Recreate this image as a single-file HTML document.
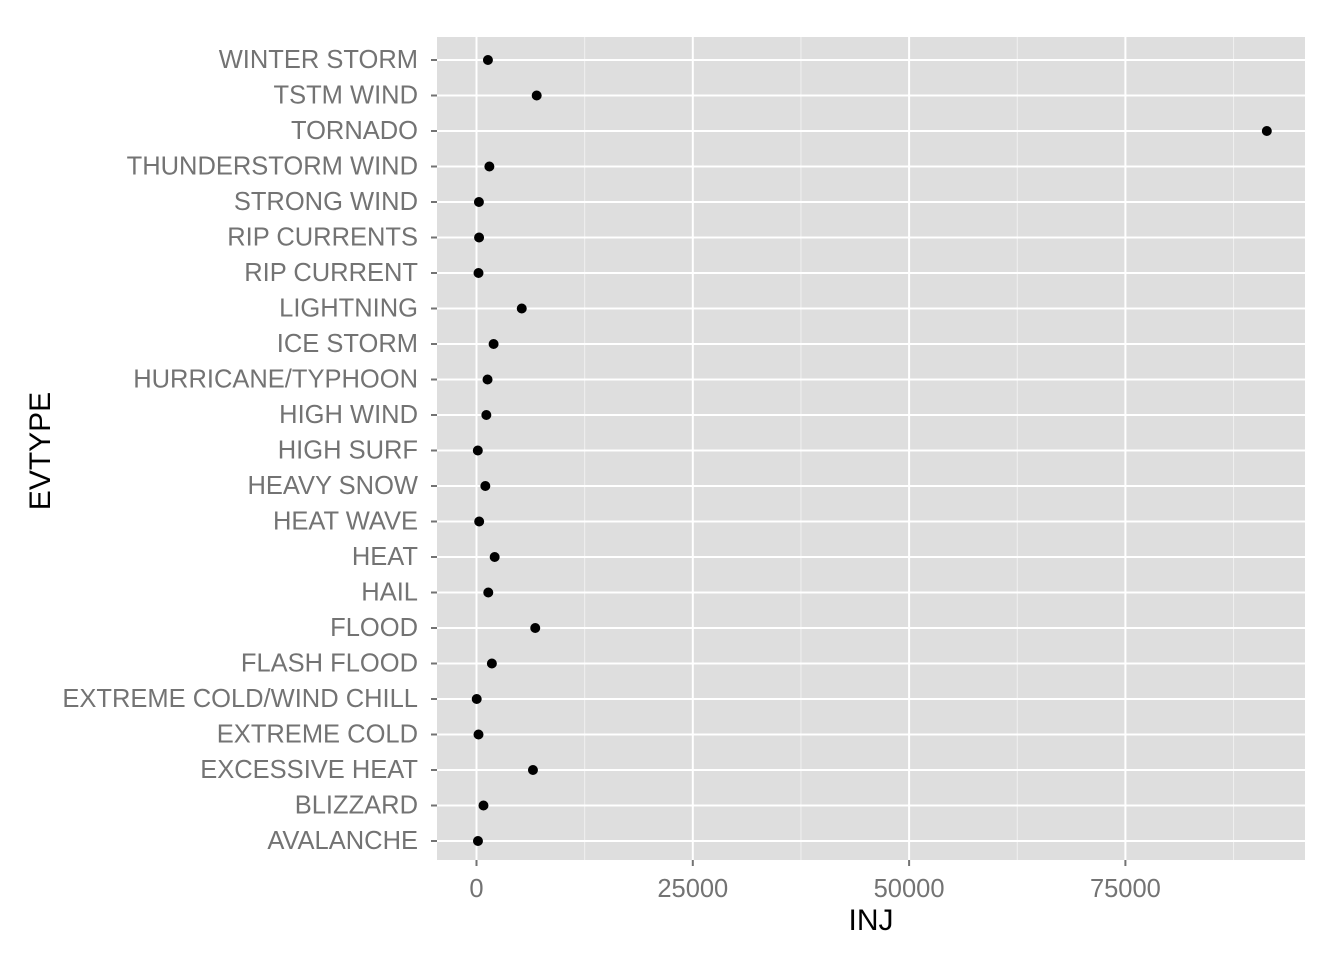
<!DOCTYPE html>
<html><head><meta charset="utf-8"><style>
body{margin:0;background:#fff;}
svg{display:block;font-family:"Liberation Sans",sans-serif;}
</style></head><body>
<svg id="chart" width="1344" height="960"></svg>
<script>
const categories=["WINTER STORM","TSTM WIND","TORNADO","THUNDERSTORM WIND","STRONG WIND","RIP CURRENTS","RIP CURRENT","LIGHTNING","ICE STORM","HURRICANE/TYPHOON","HIGH WIND","HIGH SURF","HEAVY SNOW","HEAT WAVE","HEAT","HAIL","FLOOD","FLASH FLOOD","EXTREME COLD/WIND CHILL","EXTREME COLD","EXCESSIVE HEAT","BLIZZARD","AVALANCHE"];
const injValues=[1321,6957,91346,1488,280,297,232,5230,1975,1275,1137,152,1021,309,2100,1361,6789,1777,24,231,6525,805,170];
const xTicks=[0,25000,50000,75000];
const xTickLabels=["0","25000","50000","75000"];
const NS="http://www.w3.org/2000/svg";
const svg=document.getElementById('chart');
const L=437,R=1305,T=37,B=860;
const x=v=>476.5+(v/25000)*216.3;
const yTop=60,yStep=(841-60)/(categories.length-1);
const y=i=>yTop+i*yStep;
function mk(tag,attrs,parent){const e=document.createElementNS(NS,tag);for(const k in attrs)e.setAttribute(k,attrs[k]);(parent||svg).appendChild(e);return e;}
const panel=mk('rect',{x:L,y:T,width:R-L,height:B-T,fill:'#dedede'});


for(let i=0;i<xTicks.length;i++){const m=xTicks[i]+12500;const px=x(m);if(px<R){const g=mk('line',{x1:px,x2:px,y1:T,y2:B,stroke:'#f0f0f0','stroke-width':1});}}
xTicks.forEach((t,i)=>{const px=x(t);
const g=mk('line',{x1:px,x2:px,y1:T,y2:B,stroke:'#fff','stroke-width':2});


const tk=mk('line',{x1:px,x2:px,y1:B,y2:B+6,stroke:'#737373','stroke-width':2});


const tx=mk('text',{x:px,y:B+37,'text-anchor':'middle','font-size':'25.5px',fill:'#737373'});tx.textContent=xTickLabels[i];


});
categories.forEach((c,i)=>{const py=y(i);
const g=mk('line',{x1:L,x2:R,y1:py,y2:py,stroke:'#fff','stroke-width':2});


const tk=mk('line',{x1:L-6,x2:L,y1:py,y2:py,stroke:'#737373','stroke-width':2});


const tx=mk('text',{x:L-19,y:py+8,'text-anchor':'end','font-size':'25.5px',fill:'#737373'});tx.textContent=c;


});
categories.forEach((c,i)=>{
const p=mk('circle',{cx:x(injValues[i]),cy:y(i),r:5,fill:'#000'});


});
const xt=mk('text',{x:871,y:930,'text-anchor':'middle','font-size':'30px',fill:'#000'});xt.textContent='INJ';


const yt=mk('text',{x:0,y:0,'text-anchor':'middle','font-size':'30px',fill:'#000',transform:'translate(50,451) rotate(-90)'});yt.textContent='EVTYPE';


</script>
</body></html>
